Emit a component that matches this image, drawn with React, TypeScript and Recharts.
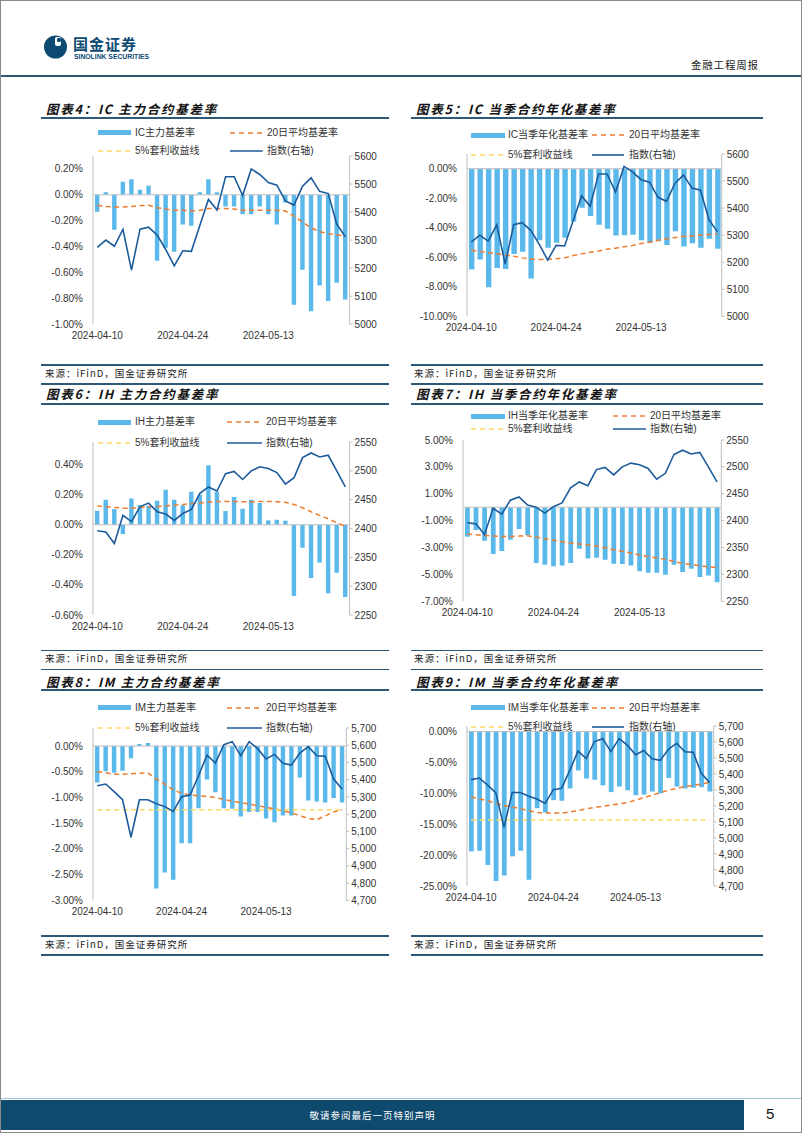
import React from 'react';
import { ComposedChart, Bar, Line, XAxis, YAxis, ReferenceLine } from 'recharts';

// trading days shown on every chart
const dates = [
  '2024-04-10', '2024-04-11', '2024-04-12', '2024-04-15', '2024-04-16', '2024-04-17', '2024-04-18', '2024-04-19',
  '2024-04-22', '2024-04-23', '2024-04-24', '2024-04-25', '2024-04-26', '2024-04-29', '2024-04-30', '2024-05-06',
  '2024-05-07', '2024-05-08', '2024-05-09', '2024-05-10', '2024-05-13', '2024-05-14', '2024-05-15', '2024-05-16',
  '2024-05-17', '2024-05-20', '2024-05-21', '2024-05-22', '2024-05-23', '2024-05-24',
];

// index levels (right axis)
const icIndex = [5274, 5300, 5278, 5338, 5193, 5339, 5346, 5318, 5267, 5208, 5262, 5260, 5353, 5445, 5407, 5526, 5526, 5459, 5554, 5534, 5505, 5496, 5440, 5425, 5492, 5522, 5474, 5466, 5357, 5312];
const ihIndex = [2396, 2394, 2374, 2423, 2412, 2438, 2444, 2429, 2425, 2414, 2426, 2433, 2461, 2472, 2465, 2495, 2499, 2485, 2500, 2507, 2504, 2497, 2477, 2488, 2523, 2531, 2524, 2527, 2500, 2472];
const imIndex = [5365, 5375, 5331, 5284, 5066, 5284, 5284, 5261, 5244, 5216, 5302, 5311, 5423, 5543, 5497, 5603, 5621, 5540, 5621, 5580, 5520, 5547, 5495, 5485, 5555, 5592, 5539, 5536, 5404, 5346];

// basis rates, %
const icMainBasis = [-0.13, 0.02, -0.27, 0.1, 0.12, 0.04, 0.07, -0.51, -0.41, -0.44, -0.23, -0.24, 0.02, 0.12, 0.02, -0.09, -0.09, -0.15, -0.15, -0.09, -0.15, -0.23, -0.06, -0.85, -0.58, -0.9, -0.7, -0.82, -0.68, -0.81];
const icMainMa20 = [-0.08, -0.09, -0.095, -0.095, -0.09, -0.085, -0.08, -0.1, -0.11, -0.12, -0.12, -0.125, -0.12, -0.105, -0.105, -0.105, -0.11, -0.12, -0.12, -0.12, -0.12, -0.12, -0.125, -0.165, -0.21, -0.255, -0.285, -0.3, -0.31, -0.32];
const icQuarterBasis = [-6.83, -6.15, -8.03, -6.72, -6.79, -5.77, -5.63, -7.44, -4.84, -5.36, -5.02, -4.68, -3.57, -2.65, -3.21, -3.8, -4.07, -4.52, -4.5, -4.48, -4.84, -5.02, -4.91, -5.16, -4.23, -5.27, -5.05, -5.36, -4.75, -5.43];
const icQuarterMa20 = [-5.52, -5.6, -5.68, -5.76, -5.84, -5.93, -6.04, -6.13, -6.15, -6.15, -6.1, -6.04, -5.88, -5.77, -5.66, -5.57, -5.45, -5.38, -5.29, -5.2, -5.07, -4.98, -4.84, -4.75, -4.66, -4.59, -4.55, -4.5, -4.46, -4.41];

const ihMainBasis = [0.093, 0.166, 0.104, -0.062, 0.175, 0.13, 0.126, 0.16, 0.232, 0.166, 0.13, 0.219, 0.2, 0.396, 0.22, 0.091, 0.184, 0.106, 0.166, 0.144, 0.029, 0.033, 0.027, -0.473, -0.153, -0.354, -0.252, -0.456, -0.319, -0.48];
const ihMainMa20 = [0.125, 0.12, 0.115, 0.11, 0.11, 0.115, 0.12, 0.12, 0.125, 0.13, 0.135, 0.14, 0.145, 0.15, 0.155, 0.155, 0.155, 0.152, 0.152, 0.155, 0.155, 0.153, 0.15, 0.135, 0.113, 0.086, 0.062, 0.04, 0.013, -0.01];
const ihQuarterBasis = [-2.19, -1.7, -2.49, -3.49, -3.26, -2.42, -1.62, -2.07, -4.15, -4.28, -4.4, -4.33, -4.15, -3.09, -3.81, -3.76, -3.91, -4.21, -4.23, -4.33, -4.77, -4.87, -4.87, -5.02, -4.28, -4.82, -4.57, -5.19, -5.09, -5.59];
const ihQuarterMa20 = [-2.0, -2.05, -2.1, -2.14, -2.18, -2.18, -2.15, -2.12, -2.23, -2.34, -2.46, -2.57, -2.66, -2.74, -2.81, -2.89, -3.02, -3.16, -3.28, -3.41, -3.55, -3.68, -3.78, -3.88, -4.03, -4.18, -4.27, -4.35, -4.43, -4.5];

const imMainBasis = [-0.71, -0.49, -0.52, -0.48, -0.24, 0.04, 0.06, -2.77, -2.46, -2.6, -1.89, -1.89, -1.21, -0.65, -0.9, -1.21, -1.22, -1.37, -1.28, -1.28, -1.41, -1.48, -1.35, -1.35, -0.61, -1.06, -1.08, -1.1, -1.01, -1.1];
const imMainMa20 = [-0.5, -0.52, -0.55, -0.55, -0.54, -0.53, -0.52, -0.64, -0.74, -0.85, -0.92, -0.95, -0.97, -0.98, -1.0, -1.04, -1.07, -1.1, -1.13, -1.16, -1.19, -1.22, -1.26, -1.3, -1.35, -1.41, -1.43, -1.36, -1.28, -1.24];
const imMainArb = -1.24;
const imQuarterBasis = [-19.4, -19.3, -21.6, -24.2, -23.3, -20.2, -19.3, -24.0, -12.4, -13.1, -11.1, -11.2, -9.2, -6.3, -7.6, -7.8, -8.7, -9.8, -8.9, -9.5, -10.3, -10.2, -9.7, -10.0, -7.5, -8.9, -9.2, -9.1, -9.0, -9.7];
const imQuarterMa20 = [-10.6, -10.9, -11.2, -11.6, -12.0, -12.2, -12.5, -12.8, -13.1, -13.2, -13.2, -13.2, -13.0, -12.8, -12.5, -12.3, -12.1, -11.9, -11.7, -11.5, -11.1, -10.7, -10.3, -9.9, -9.5, -9.2, -8.9, -8.7, -8.5, -8.2];
const imQuarterArb = -14.3;

// axis ticks
const icMainTicks = [-1.0, -0.8, -0.6, -0.4, -0.2, 0, 0.2];
const icQuarterTicks = [-10, -8, -6, -4, -2, 0];
const icIndexTicks = [5000, 5100, 5200, 5300, 5400, 5500, 5600];
const ihMainTicks = [-0.6, -0.4, -0.2, 0, 0.2, 0.4];
const ihQuarterTicks = [-7, -5, -3, -1, 1, 3, 5];
const ihIndexTicks = [2250, 2300, 2350, 2400, 2450, 2500, 2550];
const imMainTicks = [-3.0, -2.5, -2.0, -1.5, -1.0, -0.5, 0];
const imQuarterTicks = [-25, -20, -15, -10, -5, 0];
const imIndexTicks = [4700, 4800, 4900, 5000, 5100, 5200, 5300, 5400, 5500, 5600, 5700];

const legendTail = ['20日平均基差率', '5%套利收益线', '指数(右轴)'];
const sourceText = '来源：iFinD，国金证券研究所';

const BAR = '#5ab8ea';
const ORANGE = '#ed7d31';
const YELLOW = '#ffd966';
const BLUE = '#1c5b9b';
const AXIS = '#bfbfbf';
const RULE = '#2d5878';
const FONT = '"Liberation Sans", Arial, "Noto Sans CJK SC", sans-serif';
const CJK = '"Noto Sans CJK SC", "Liberation Sans", sans-serif';

const tickStyle = { fontSize: 10, fill: '#333', fontFamily: FONT };
const pct = (v: number) => `${v.toFixed(2)}%`;
const plain = (v: number) => `${v}`;
const comma = (v: number) => v.toLocaleString('en-US');

type Row = { d: string; b: number; ma: number; idx: number };
const rows = (b: number[], ma: number[], idx: number[]): Row[] =>
  dates.map((d, i) => ({ d, b: b[i], ma: ma[i], idx: idx[i] }));

const LW = 60;
const RW = 42;
const MT = 4;
const XH = 22;

interface PanelProps {
  box: { x: number; y: number; w: number; h: number };
  data: Row[];
  leftDomain: [number, number];
  leftTicks: number[];
  rightDomain: [number, number];
  rightTicks: number[];
  rightFmt: (v: number) => string;
  barSize: number;
  arb?: number;
}

function Panel({ box, data, leftDomain, leftTicks, rightDomain, rightTicks, rightFmt, barSize, arb }: PanelProps) {
  return (
    <div style={{ position: 'absolute', left: box.x - LW, top: box.y - MT }}>
      <ComposedChart
        width={LW + box.w + RW}
        height={MT + box.h + XH}
        data={data}
        margin={{ top: MT, right: 0, bottom: 0, left: 0 }}
      >
        <XAxis dataKey="d" interval={9} axisLine={false} tickLine={false} tickSize={4} tickMargin={4} height={XH} tick={tickStyle} />
        <YAxis
          yAxisId="l"
          width={LW}
          domain={leftDomain}
          ticks={leftTicks}
          interval={0}
          allowDataOverflow
          tickFormatter={pct}
          axisLine={{ stroke: AXIS }}
          tickLine={false}
          tickSize={6}
          tickMargin={4}
          tick={tickStyle}
        />
        <YAxis
          yAxisId="r"
          orientation="right"
          width={RW}
          domain={rightDomain}
          ticks={rightTicks}
          interval={0}
          allowDataOverflow
          tickFormatter={rightFmt}
          axisLine={{ stroke: AXIS }}
          tickLine={{ stroke: AXIS }}
          tickSize={3}
          tickMargin={2}
          tick={tickStyle}
        />
        <Bar yAxisId="l" dataKey="b" fill={BAR} barSize={barSize} isAnimationActive={false} />
        <ReferenceLine yAxisId="l" y={0} stroke={AXIS} strokeWidth={1} />
        <Line yAxisId="l" dataKey="ma" stroke={ORANGE} strokeWidth={1.5} strokeDasharray="5 3.5" dot={false} isAnimationActive={false} />
        {arb !== undefined && (
          <ReferenceLine
            yAxisId="l"
            stroke={YELLOW}
            strokeWidth={1.5}
            strokeDasharray="5 3.5"
            segment={[{ x: dates[0], y: arb }, { x: dates[dates.length - 1], y: arb }]}
          />
        )}
        <Line yAxisId="r" dataKey="idx" stroke={BLUE} strokeWidth={1.6} dot={false} isAnimationActive={false} />
      </ComposedChart>
    </div>
  );
}

function Legend({ first, rows: r, a, b }: { first: string; rows: [number, number]; a: [number, number, number]; b: [number, number, number] }) {
  const items = [
    { k: 'bar', y: r[0], c: a, label: first, color: BAR, dash: '' },
    { k: 'ma', y: r[0], c: b, label: legendTail[0], color: ORANGE, dash: '5 4' },
    { k: 'arb', y: r[1], c: a, label: legendTail[1], color: YELLOW, dash: '5 4' },
    { k: 'idx', y: r[1], c: b, label: legendTail[2], color: BLUE, dash: '' },
  ];
  return (
    <>
      {items.map((it) => {
        const w = it.c[1] - it.c[0];
        return (
          <React.Fragment key={it.k}>
            {it.k === 'bar' ? (
              <div style={{ position: 'absolute', left: it.c[0], top: it.y - 2.5, width: w, height: 5, background: it.color }} />
            ) : (
              <svg style={{ position: 'absolute', left: it.c[0], top: it.y - 2 }} width={w} height={4}>
                <line x1={0} x2={w} y1={2} y2={2} stroke={it.color} strokeWidth={1.6} strokeDasharray={it.dash || undefined} />
              </svg>
            )}
            <div style={{ position: 'absolute', left: it.c[2], top: it.y - 7, height: 14, lineHeight: '14px', fontSize: 10, color: '#333', fontFamily: FONT, whiteSpace: 'nowrap' }}>
              {it.label}
            </div>
          </React.Fragment>
        );
      })}
    </>
  );
}

function Title({ x, y, text }: { x: number; y: number; text: string }) {
  return (
    <div style={{ position: 'absolute', left: x, top: y - 9, height: 18, lineHeight: '18px', fontSize: 12.5, fontWeight: 700, fontStyle: 'italic', letterSpacing: 1.75, color: '#111', fontFamily: CJK, whiteSpace: 'nowrap' }}>
      {text}
    </div>
  );
}

function Rule({ x0, x1, y }: { x0: number; x1: number; y: number }) {
  return <div style={{ position: 'absolute', left: x0, top: y - 0.75, width: x1 - x0, height: 1.5, background: RULE }} />;
}

function Source({ x, y }: { x: number; y: number }) {
  return (
    <div style={{ position: 'absolute', left: x, top: y - 7, height: 14, lineHeight: '14px', fontSize: 9.5, letterSpacing: 1, color: '#222', fontFamily: CJK, whiteSpace: 'nowrap' }}>
      {sourceText}
    </div>
  );
}

const panels = [
  {
    title: '图表4：IC 主力合约基差率', tx: 45, ty: 107.7, first: 'IC主力基差率',
    legendRows: [131.7, 150] as [number, number], a: [96.7, 130, 134] as [number, number, number], b: [229, 261.7, 266] as [number, number, number],
    box: { x: 91.7, y: 154.5, w: 256.6, h: 168.2 },
    data: rows(icMainBasis, icMainMa20, icIndex), leftDomain: [-1.0, 0.3] as [number, number], leftTicks: icMainTicks,
    rightDomain: [5000, 5600] as [number, number], rightTicks: icIndexTicks, rightFmt: plain, barSize: 4.4,
  },
  {
    title: '图表5：IC 当季合约年化基差率', tx: 415, ty: 107.7, first: 'IC当季年化基差率',
    legendRows: [134, 154] as [number, number], a: [470, 504, 507] as [number, number, number], b: [591, 623, 628] as [number, number, number],
    box: { x: 466, y: 152.7, w: 254.7, h: 162.3 },
    data: rows(icQuarterBasis, icQuarterMa20, icIndex), leftDomain: [-10, 1] as [number, number], leftTicks: icQuarterTicks,
    rightDomain: [5000, 5600] as [number, number], rightTicks: icIndexTicks, rightFmt: plain, barSize: 5.4,
  },
  {
    title: '图表6：IH 主力合约基差率', tx: 45, ty: 393, first: 'IH主力基差率',
    legendRows: [421, 442] as [number, number], a: [96.7, 130, 134] as [number, number, number], b: [226, 261, 265] as [number, number, number],
    box: { x: 91.7, y: 441, w: 256.6, h: 173 },
    data: rows(ihMainBasis, ihMainMa20, ihIndex), leftDomain: [-0.6, 0.55] as [number, number], leftTicks: ihMainTicks,
    rightDomain: [2250, 2550] as [number, number], rightTicks: ihIndexTicks, rightFmt: plain, barSize: 4.4,
  },
  {
    title: '图表7：IH 当季合约年化基差率', tx: 415, ty: 393.3, first: 'IH当季年化基差率',
    legendRows: [415, 428.3] as [number, number], a: [470, 504, 507] as [number, number, number], b: [612, 645, 649] as [number, number, number],
    box: { x: 461.7, y: 438.7, w: 258.3, h: 161.3 },
    data: rows(ihQuarterBasis, ihQuarterMa20, ihIndex), leftDomain: [-7, 5] as [number, number], leftTicks: ihQuarterTicks,
    rightDomain: [2250, 2550] as [number, number], rightTicks: ihIndexTicks, rightFmt: plain, barSize: 4.8,
  },
  {
    title: '图表8：IM 主力合约基差率', tx: 45, ty: 681, first: 'IM主力基差率',
    legendRows: [706.7, 727.3] as [number, number], a: [96.7, 130, 134] as [number, number, number], b: [226, 261, 265] as [number, number, number],
    box: { x: 91.7, y: 727.3, w: 253.3, h: 172.4 },
    data: rows(imMainBasis, imMainMa20, imIndex), leftDomain: [-3, 0.35] as [number, number], leftTicks: imMainTicks,
    rightDomain: [4700, 5700] as [number, number], rightTicks: imIndexTicks, rightFmt: comma, barSize: 4.4, arb: imMainArb,
  },
  {
    title: '图表9：IM 当季合约年化基差率', tx: 415, ty: 681, first: 'IM当季年化基差率',
    legendRows: [706.7, 725.7] as [number, number], a: [470, 504, 507] as [number, number, number], b: [591, 623, 628] as [number, number, number],
    box: { x: 466, y: 725.3, w: 246.7, h: 160 },
    data: rows(imQuarterBasis, imQuarterMa20, imIndex), leftDomain: [-25, 0.9] as [number, number], leftTicks: imQuarterTicks,
    rightDomain: [4700, 5700] as [number, number], rightTicks: imIndexTicks, rightFmt: comma, barSize: 4.8, arb: imQuarterArb,
  },
];

export default function App() {
  return (
    <div style={{ position: 'absolute', left: 0, top: 0, width: 802, height: 1133, background: '#fff', overflow: 'hidden', boxSizing: 'border-box', border: '1px solid #8a8a8a' }}>
      {/* header */}
      <svg style={{ position: 'absolute', left: 43, top: 33 }} width={24} height={26}>
        <circle cx={11.5} cy={13} r={11.5} fill="#0c4a72" />
        <rect x={11} y={3} width={6} height={9} rx={2} fill="#fff" />
        <circle cx={15} cy={6} r={2.2} fill="#0c4a72" />
      </svg>
      <div style={{ position: 'absolute', left: 72, top: 34, height: 18, lineHeight: '18px', fontSize: 15, fontWeight: 700, letterSpacing: 1, color: '#0c4a72', fontFamily: CJK }}>国金证券</div>
      <div style={{ position: 'absolute', left: 73, top: 51, height: 9, lineHeight: '9px', fontSize: 6.8, fontWeight: 700, color: '#0c4a72', fontFamily: FONT, whiteSpace: 'nowrap' }}>SINOLINK SECURITIES</div>
      <div style={{ position: 'absolute', left: 690, top: 57, height: 14, lineHeight: '14px', fontSize: 10.5, letterSpacing: 0.8, color: '#222', fontFamily: CJK }}>金融工程周报</div>
      <Rule x0={0} x1={802} y={75} />

      {panels.map((p) => (
        <React.Fragment key={p.title}>
          <Title x={p.tx} y={p.ty} text={p.title} />
          <Legend first={p.first} rows={p.legendRows} a={p.a} b={p.b} />
          <Panel
            box={p.box}
            data={p.data}
            leftDomain={p.leftDomain}
            leftTicks={p.leftTicks}
            rightDomain={p.rightDomain}
            rightTicks={p.rightTicks}
            rightFmt={p.rightFmt}
            barSize={p.barSize}
            arb={p.arb}
          />
        </React.Fragment>
      ))}

      {/* title underlines */}
      <Rule x0={40} x1={388} y={117} />
      <Rule x0={410} x1={762} y={117} />
      <Rule x0={40} x1={388} y={403} />
      <Rule x0={410} x1={762} y={403} />
      <Rule x0={40} x1={388} y={689} />
      <Rule x0={410} x1={762} y={689} />

      {/* source blocks */}
      {[364, 649.5, 935].map((y) => (
        <React.Fragment key={y}>
          <Rule x0={40} x1={388} y={y} />
          <Rule x0={410} x1={762} y={y} />
          <Source x={44} y={y + 7.5} />
          <Source x={413} y={y + 7.5} />
          <Rule x0={40} x1={388} y={y + 19} />
          <Rule x0={410} x1={762} y={y + 19} />
        </React.Fragment>
      ))}

      {/* footer */}
      <div style={{ position: 'absolute', left: 0, top: 1097, width: 802, height: 1, background: '#9cc3d8' }} />
      <div style={{ position: 'absolute', left: 0, top: 1099, width: 743, height: 30, background: '#0e4a6e' }} />
      <div style={{ position: 'absolute', left: 0, top: 1099, width: 743, height: 30, lineHeight: '30px', textAlign: 'center', fontSize: 9.5, letterSpacing: 1, color: '#fff', fontFamily: CJK }}>敬请参阅最后一页特别声明</div>
      <div style={{ position: 'absolute', left: 765, top: 1104, height: 18, lineHeight: '18px', fontSize: 15, color: '#111', fontFamily: FONT }}>5</div>
    </div>
  );
}
